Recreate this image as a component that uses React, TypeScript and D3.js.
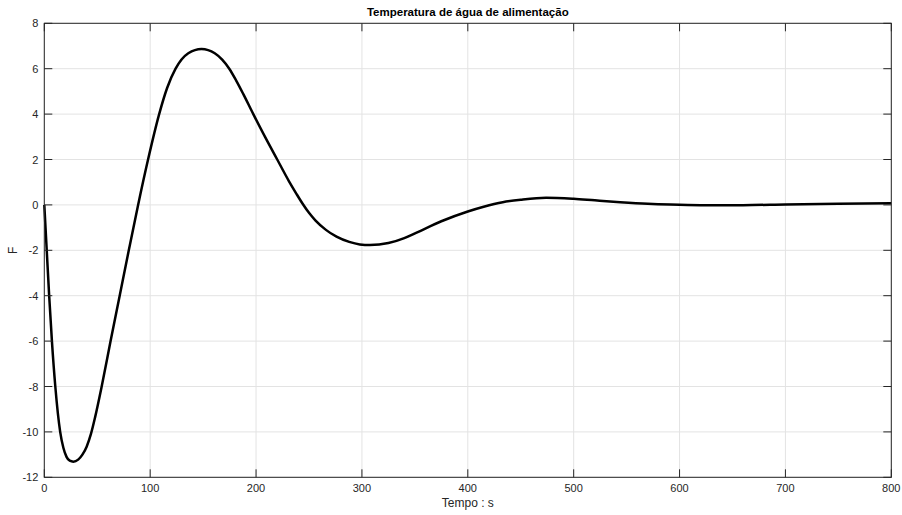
import React from "react";
import * as d3 from "d3";

const timeValues: number[] = [0, 2.3, 4.6, 7.2, 10.4, 15, 18, 21, 24, 27.4, 32, 36, 40, 44, 48, 54.2, 62.6, 71.2, 79.8, 88.6, 98, 108.5, 116, 124, 136, 148.5, 161, 168, 174.7, 181, 188, 197.4, 209, 220, 231, 238, 244, 250, 256, 266, 276, 288, 298, 307.6, 325, 340, 351.6, 375, 400, 415, 433, 450, 474, 500, 520, 544, 570, 591, 620, 660, 700, 750, 800];
const fValues: number[] = [0, -2, -4, -6, -8, -10, -10.7, -11.1, -11.27, -11.31, -11.22, -11.0, -10.65, -10.1, -9.35, -8, -6, -4, -2, 0, 2, 4, 5.15, 6, 6.68, 6.87, 6.68, 6.4, 6.0, 5.5, 4.88, 4, 2.95, 2, 1.05, 0.5, 0.05, -0.35, -0.68, -1.1, -1.4, -1.63, -1.74, -1.77, -1.68, -1.46, -1.22, -0.72, -0.29, -0.08, 0.12, 0.23, 0.32, 0.27, 0.2, 0.12, 0.05, 0.015, -0.01, -0.01, 0.02, 0.05, 0.07];
const xTicks: number[] = [0, 100, 200, 300, 400, 500, 600, 700, 800];
const yTicks: number[] = [-12, -10, -8, -6, -4, -2, 0, 2, 4, 6, 8];
const titleText = "Temperatura de água de alimentação";
const xLabel = "Tempo : s";
const yLabel = "F";

export default function App() {
  const W = 902, H = 515;
  const left = 44.3, right = 891.3, top = 23.3, bottom = 477.3;
  const x = d3.scaleLinear().domain([0, 800]).range([left, right]);
  const y = d3.scaleLinear().domain([-12, 8]).range([bottom, top]);
  const pts: [number, number][] = timeValues.map((t, i) => [t, fValues[i]]);
  const line = d3.line<[number, number]>().x(d => x(d[0])).y(d => y(d[1])).curve(d3.curveMonotoneX);
  const axisColor = "#262626";
  const gridColor = "#e3e3e3";
  const tickLen = 8;
  const font = "'Liberation Sans', Arial, Helvetica, sans-serif";
  return (
    <svg width={W} height={H} style={{ position: "absolute", left: 0, top: 0, background: "#fff" }}>
      <rect x={0} y={0} width={W} height={H} fill="#fff" />
      {xTicks.map(t => (
        <line key={"gx" + t} x1={x(t)} x2={x(t)} y1={top} y2={bottom} stroke={gridColor} strokeWidth={1} />
      ))}
      {yTicks.map(t => (
        <line key={"gy" + t} x1={left} x2={right} y1={y(t)} y2={y(t)} stroke={gridColor} strokeWidth={1} />
      ))}
      <path d={line(pts) || ""} fill="none" stroke="#000" strokeWidth={2.5} strokeLinejoin="round" />
      <rect x={left} y={top} width={right - left} height={bottom - top} fill="none" stroke={axisColor} strokeWidth={1} />
      {xTicks.map(t => (
        <g key={"tx" + t}>
          <line x1={x(t)} x2={x(t)} y1={bottom} y2={bottom - tickLen} stroke={axisColor} />
          <line x1={x(t)} x2={x(t)} y1={top} y2={top + tickLen} stroke={axisColor} />
          <text x={x(t)} y={bottom + 15} textAnchor="middle" fontSize={11} fill={axisColor} fontFamily={font}>{t}</text>
        </g>
      ))}
      {yTicks.map(t => (
        <g key={"ty" + t}>
          <line x1={left} x2={left + tickLen} y1={y(t)} y2={y(t)} stroke={axisColor} />
          <line x1={right} x2={right - tickLen} y1={y(t)} y2={y(t)} stroke={axisColor} />
          <text x={left - 6} y={y(t) + 4} textAnchor="end" fontSize={11} fill={axisColor} fontFamily={font}>{t}</text>
        </g>
      ))}
      <text x={(left + right) / 2} y={16} textAnchor="middle" fontSize={11.5} fontWeight="bold" fill="#000" fontFamily={font}>{titleText}</text>
      <text x={(left + right) / 2} y={507} textAnchor="middle" fontSize={12} fill={axisColor} fontFamily={font}>{xLabel}</text>
      <text transform={`translate(17, ${(top + bottom) / 2}) rotate(-90)`} textAnchor="middle" fontSize={12} fill={axisColor} fontFamily={font}>{yLabel}</text>
    </svg>
  );
}
